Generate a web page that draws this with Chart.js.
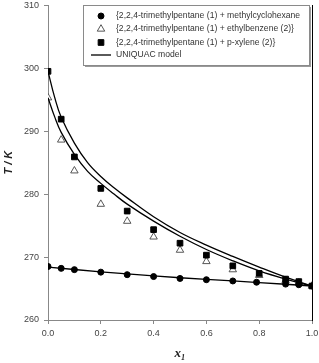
<!DOCTYPE html>
<html lang="en">
<head>
<meta charset="UTF-8">
<title>T - x1 UNIQUAC</title>
<script src="https://cdn.jsdelivr.net/npm/chart.js"></script>
<style>
  html, body { margin: 0; padding: 0; background: #fff; }
  #wrap { width: 319px; height: 363px; }
</style>
</head>
<body>
<div id="wrap"><canvas id="chart"></canvas></div>
<script>
// experimental points (x1, T/K)
const xMch = [0, 0.05, 0.1, 0.2, 0.3, 0.4, 0.5, 0.6, 0.7, 0.79, 0.9, 0.95, 1.0];
const tMch = [268.5, 268.2, 268.0, 267.6, 267.2, 266.9, 266.6, 266.4, 266.2, 266.0, 265.7, 265.6, 265.4];
const xEb = [0, 0.05, 0.1, 0.2, 0.3, 0.4, 0.5, 0.6, 0.7, 0.8, 0.9, 0.95, 1.0];
const tEb = [295.3, 288.6, 283.7, 278.4, 275.7, 273.2, 271.1, 269.3, 268.0, 267.1, 266.3, 265.9, 265.4];
const xPx = [0, 0.05, 0.1, 0.2, 0.3, 0.4, 0.5, 0.6, 0.7, 0.8, 0.9, 0.95, 1.0];
const tPx = [299.5, 291.9, 285.9, 280.9, 277.3, 274.35, 272.2, 270.3, 268.6, 267.4, 266.5, 266.1, 265.4];

// UNIQUAC curves
const xModel = [0, 0.025, 0.05, 0.1, 0.15, 0.2, 0.25, 0.3, 0.4, 0.5, 0.6, 0.7, 0.8, 0.9, 1.0];
const tModelPx = [299.5, 295.4, 292.2, 288.1, 285.0, 282.8, 281.0, 279.4, 276.4, 273.9, 271.9, 270.1, 268.4, 266.8, 265.4];
const tModelEb = [295.3, 292.3, 289.8, 286.3, 283.6, 281.7, 280.0, 278.4, 275.7, 273.3, 271.2, 269.4, 267.8, 266.5, 265.4];
const xModelMch = [0, 0.2, 0.4, 0.6, 0.8, 1.0];
const tModelMch = [268.4, 267.65, 267.0, 266.45, 265.95, 265.4];

const legendLabels = [
  "{2,2,4-trimethylpentane (1) + methylcyclohexane",
  "{2,2,4-trimethylpentane (1) + ethylbenzene (2)}",
  "{2,2,4-trimethylpentane (1) + p-xylene (2)}",
  "UNIQUAC model"
];

const pts = (xs, ys) => xs.map((x, i) => ({ x: x, y: ys[i] }));

const lineDs = (data) => ({
  type: "line", data: data, borderColor: "#000", borderWidth: 1.3,
  pointRadius: 0, fill: false, tension: 0.4, order: 1
});

const noPad = s => { s.paddingTop = 0; s.paddingBottom = 0; s.paddingLeft = 0; s.paddingRight = 0; };

// legend box inside the plot, like the original figure
const legendBox = {
  id: "legendBox",
  afterDraw(chart) {
    const ctx = chart.ctx;
    const x0 = 83, y0 = 5, w = 226, h = 60;
    ctx.save();
    ctx.fillStyle = "#9a9a9a";
    ctx.fillRect(x0 + 2, y0 + 2, w, h);
    ctx.fillStyle = "#fff";
    ctx.fillRect(x0, y0, w, h);
    ctx.strokeStyle = "#8a8a8a";
    ctx.lineWidth = 1;
    ctx.strokeRect(x0 + 0.5, y0 + 0.5, w, h);

    const rows = [16, 29, 42.5, 55];
    const marks = [chart.data.datasets[3], chart.data.datasets[4], chart.data.datasets[5]];
    marks.forEach((ds, i) => {
      ctx.fillStyle = ds.pointBackgroundColor;
      ctx.strokeStyle = ds.pointBorderColor;
      ctx.lineWidth = ds.pointBorderWidth;
      Chart.helpers.drawPoint(ctx, {
        pointStyle: ds.pointStyle, radius: ds.pointRadius, rotation: 0, borderWidth: ds.pointBorderWidth
      }, 101, rows[i]);
    });
    ctx.strokeStyle = "#000";
    ctx.lineWidth = 1.3;
    ctx.beginPath();
    ctx.moveTo(91, rows[3]);
    ctx.lineTo(111, rows[3]);
    ctx.stroke();

    ctx.fillStyle = "#333";
    ctx.font = "8.6px 'Liberation Sans', Arial, sans-serif";
    ctx.textBaseline = "middle";
    legendLabels.forEach((t, i) => ctx.fillText(t, 116, rows[i]));
    ctx.restore();
  }
};

new Chart(document.getElementById("chart"), {
  type: "scatter",
  data: {
    datasets: [
      lineDs(pts(xModel, tModelPx)),
      lineDs(pts(xModel, tModelEb)),
      lineDs(pts(xModelMch, tModelMch)),
      { label: legendLabels[0], data: pts(xMch, tMch), pointStyle: "circle", pointRadius: 3,
        pointBackgroundColor: "#000", pointBorderColor: "#000", pointBorderWidth: 1, order: 2 },
      { label: legendLabels[1], data: pts(xEb, tEb), pointStyle: "triangle", pointRadius: 4.3,
        pointBackgroundColor: "#fff", pointBorderColor: "#444", pointBorderWidth: 0.9, order: 4 },
      { label: legendLabels[2], data: pts(xPx, tPx), pointStyle: "rect", pointRadius: 4,
        pointBackgroundColor: "#000", pointBorderColor: "#000", pointBorderWidth: 1, order: 3 }
    ]
  },
  options: {
    responsive: true,
    maintainAspectRatio: false,
    animation: false,
    events: [],
    layout: { padding: { top: 4, right: 7, left: 0, bottom: 0 } },
    plugins: { legend: { display: false }, tooltip: { enabled: false } },
    scales: {
      x: {
        type: "linear", min: 0, max: 1,
        afterFit: s => { s.height = 43; noPad(s); },
        ticks: {
          stepSize: 0.2, padding: 4, color: "#444",
          font: { family: "'Liberation Sans', Arial", size: 9 },
          callback: v => v.toFixed(1)
        },
        grid: { display: true, drawOnChartArea: false, drawTicks: true, tickLength: 4, color: "#888" },
        border: { color: "#888", width: 1 },
        title: {
          display: true, text: "x\u2081", color: "#222", padding: { top: 0, bottom: 2 },
          font: { family: "'Liberation Serif', 'DejaVu Serif', serif", style: "italic", weight: "bold", size: 13 }
        }
      },
      y: {
        type: "linear", min: 260, max: 310,
        afterFit: s => { s.width = 48; noPad(s); },
        ticks: {
          stepSize: 10, padding: 5, color: "#444",
          font: { family: "'Liberation Sans', Arial", size: 9 }
        },
        grid: { display: true, drawOnChartArea: false, drawTicks: true, tickLength: 4, color: "#888" },
        border: { color: "#888", width: 1 },
        title: {
          display: true, text: "T / K", color: "#222", padding: { top: 2, bottom: 0 },
          font: { family: "'Liberation Sans', Arial", style: "italic", weight: "bold", size: 11 }
        }
      },
      yr: {
        type: "linear", position: "right", min: 260, max: 310,
        afterFit: s => { s.width = 0; noPad(s); },
        ticks: { display: false },
        grid: { display: false },
        border: { color: "#000", width: 1 }
      }
    }
  },
  plugins: [legendBox]
});
</script>
</body>
</html>
